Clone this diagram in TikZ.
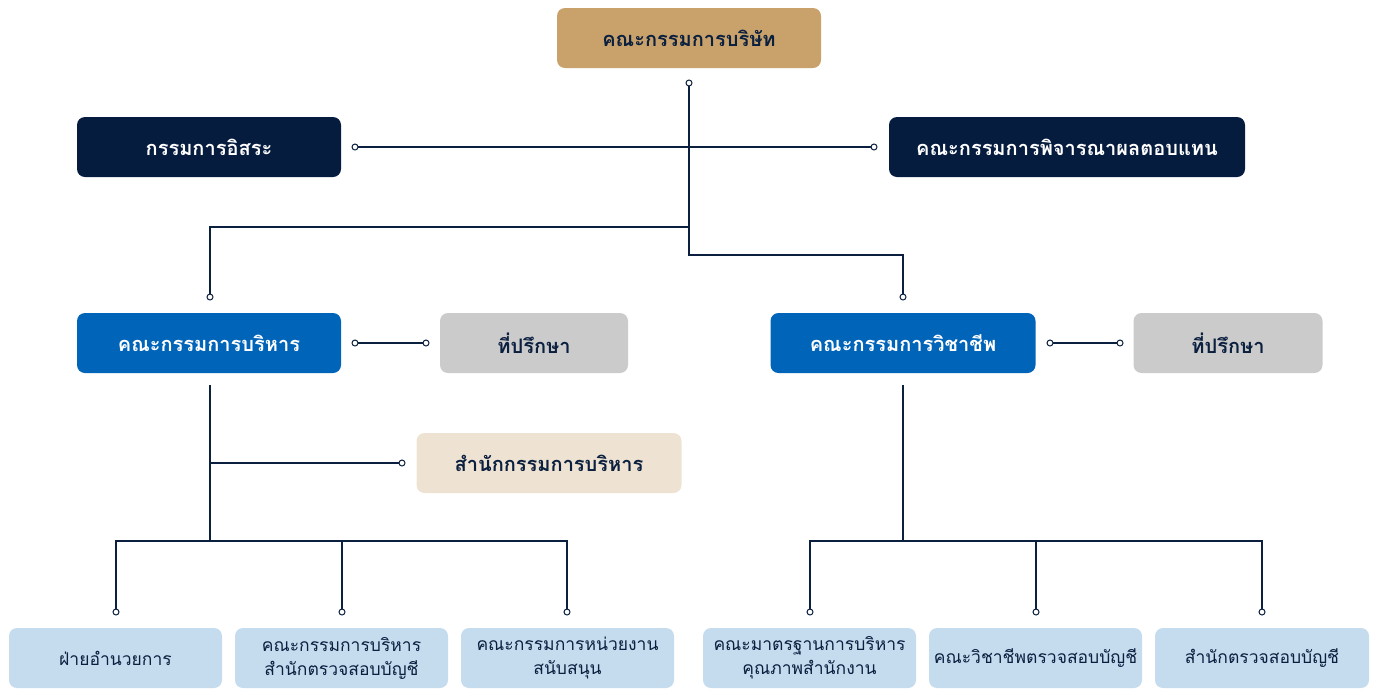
\documentclass[tikz,border=0pt]{standalone}
\usepackage{fontspec}
\newfontfamily\thaifont[Script=Thai]{Loma}
\definecolor{navy}{HTML}{061C3F}
\definecolor{ink}{HTML}{0B1F3F}
\definecolor{tan}{HTML}{C9A26B}
\definecolor{royal}{HTML}{0064B8}
\definecolor{greybox}{HTML}{CBCBCB}
\definecolor{cream}{HTML}{EEE3D3}
\definecolor{pale}{HTML}{C5DCEF}
\begin{document}
\begin{tikzpicture}[x=1pt,y=-1pt,
    box/.style={rounded corners=8pt, minimum height=60pt, inner sep=0pt, align=center,
        font=\thaifont\bfseries\fontsize{20}{24}\selectfont},
    small/.style={box, font=\thaifont\fontsize{17.5}{24}\selectfont, fill=pale, text=ink, minimum width=213pt},
    dot/.style={circle, draw=ink, fill=white, inner sep=0pt, minimum size=6pt, line width=1pt},
    link/.style={draw=ink, line width=1.1pt}]
\useasboundingbox (0,0) rectangle (1375,689);
% boxes
\node[box, fill=tan, text=ink, minimum width=264pt] (board) at (689,38) {คณะกรรมการบริษัท};
\node[box, fill=navy, text=white, minimum width=264pt] (indep) at (209,147) {กรรมการอิสระ};
\node[box, fill=navy, text=white, minimum width=356pt] (remun) at (1067,147) {คณะกรรมการพิจารณาผลตอบแทน};
\node[box, fill=royal, text=white, minimum width=264pt] (exec) at (209,343) {คณะกรรมการบริหาร};
\node[box, fill=greybox, text=ink, minimum width=188pt] (advL) at (534,343) {ที่ปรึกษา};
\node[box, fill=royal, text=white, minimum width=265pt] (prof) at (903,343) {คณะกรรมการวิชาชีพ};
\node[box, fill=greybox, text=ink, minimum width=189pt] (advR) at (1228,343) {ที่ปรึกษา};
\node[box, fill=cream, text=ink, minimum width=265pt] (office) at (549,463) {สำนักกรรมการบริหาร};
\node[small] (b1) at (115.5,658) {ฝ่ายอำนวยการ};
\node[small] (b2) at (341.5,658) {คณะกรรมการบริหาร\\สำนักตรวจสอบบัญชี};
\node[small] (b3) at (567.5,658) {คณะกรรมการหน่วยงาน\\สนับสนุน};
\node[small] (b4) at (809.5,658) {คณะมาตรฐานการบริหาร\\คุณภาพสำนักงาน};
\node[small] (b5) at (1035.5,658) {คณะวิชาชีพตรวจสอบบัญชี};
\node[small, minimum width=214pt] (b6) at (1262,658) {สำนักตรวจสอบบัญชี};
% junctions
\coordinate (j1) at (689,227);
\coordinate (j2) at (689,255);
\coordinate (e1) at (210,385);
\coordinate (e2) at (210,463);
\coordinate (e3) at (210,541);
\coordinate (p1) at (903,385);
\coordinate (p2) at (903,541);
% connectors
\draw[link] (689,83) -- (j2) -| (903,297);
\draw[link] (j1) -| (210,297);
\draw[link] (355,147) -- (874,147);
\draw[link] (355,343) -- (426,343);
\draw[link] (1050,343) -- (1120,343);
\draw[link] (e1) -- (e3);
\draw[link] (e2) -- (402,463);
\draw[link] (116,612) |- (e3) -| (567,612);
\draw[link] (342,541) -- (342,612);
\draw[link] (p1) -- (p2);
\draw[link] (810,612) |- (p2) -| (1262,612);
\draw[link] (1036,541) -- (1036,612);
% end dots
\foreach \p in {(689,83),(355,147),(874,147),(210,297),(903,297),(355,343),(426,343),
    (1050,343),(1120,343),(402,463),(116,612),(342,612),(567,612),(810,612),(1036,612),(1262,612)}
  \node[dot] at \p {};
\end{tikzpicture}
\end{document}
